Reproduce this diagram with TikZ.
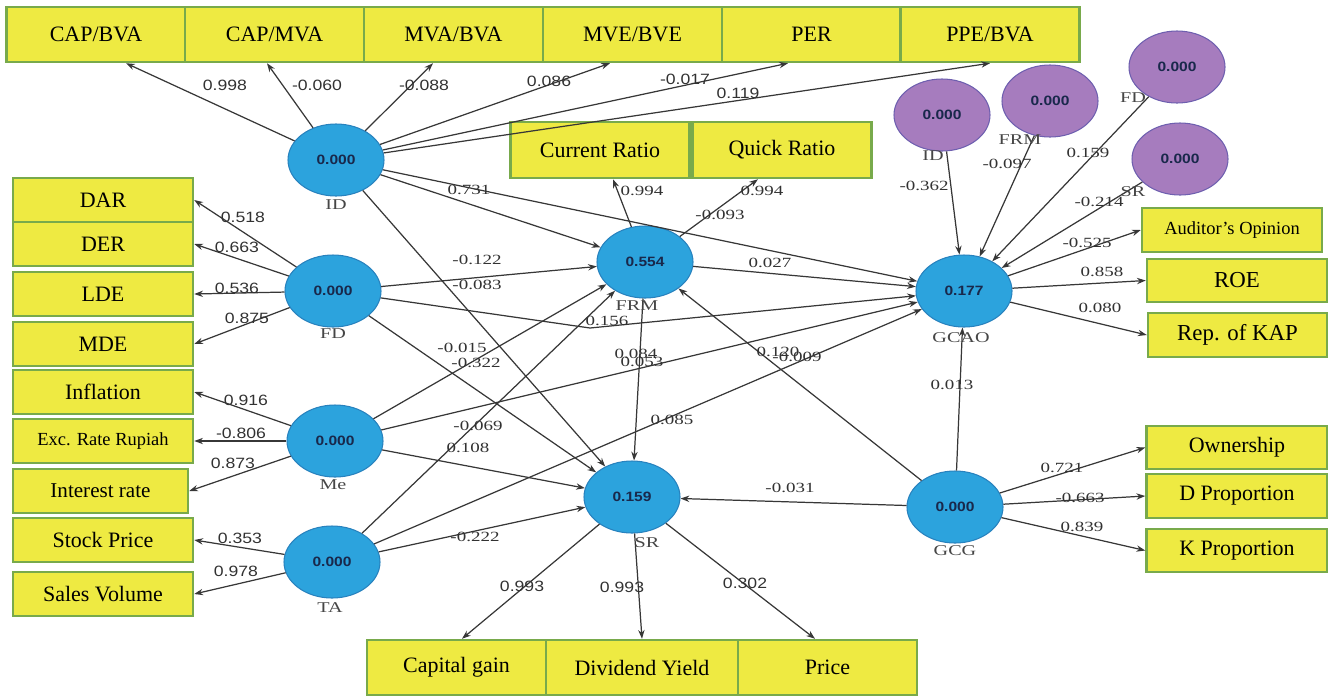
\documentclass[tikz,border=0pt]{standalone}
\usepackage{fontspec}
\setmainfont{Liberation Serif}
\newfontfamily\lsans[FakeStretch=1.18]{Liberation Sans}
\newfontfamily\lserif[FakeStretch=1.35]{Liberation Serif}
\newfontfamily\vsans[FakeStretch=1.15]{Liberation Sans}
\usetikzlibrary{shapes.geometric,arrows.meta,calc}
\definecolor{boxfill}{RGB}{238,234,66}
\definecolor{boxline}{RGB}{120,170,75}
\definecolor{lvfill}{RGB}{44,163,221}
\definecolor{lvline}{RGB}{40,130,190}
\definecolor{modfill}{RGB}{166,124,190}
\definecolor{modline}{RGB}{110,95,175}
\definecolor{edgecol}{RGB}{55,55,55}
\definecolor{labtext}{RGB}{50,50,50}
\definecolor{valtext}{RGB}{25,40,75}
\definecolor{nametext}{RGB}{70,70,70}
\begin{document}
\begin{tikzpicture}[x=0.2mm,y=-0.2mm,
  box/.style={draw=boxline, fill=boxfill, line width=1.4pt, minimum width=36mm, minimum height=8.8mm, inner sep=0pt, font=\fontsize{12.5}{14}\selectfont},
  topbox/.style={box, minimum width=35.8mm, minimum height=11mm},
  lv/.style={ellipse, draw=lvline, fill=lvfill, line width=0.6pt, minimum width=19.2mm, minimum height=14.4mm, inner sep=0pt, font=\vsans\bfseries\fontsize{7.7}{9}\selectfont, text=valtext},
  mod/.style={lv, draw=modline, fill=modfill},
  arr/.style={draw=edgecol, line width=0.7pt, -{Stealth[length=5pt,width=3.6pt]}},
  ls/.style={font=\lsans\fontsize{8.5}{10}\selectfont, text=labtext, inner sep=0pt},
  lr/.style={font=\lserif\fontsize{8}{10}\selectfont, text=labtext, inner sep=0pt},
  nm/.style={font=\lserif\fontsize{8.5}{10}\selectfont, text=nametext, inner sep=0pt}]
\useasboundingbox (0,0) rectangle (1328,696);

% latent variables
\node[lv] (ID) at (336,160) {0.000};
\node[lv] (FD) at (333,291) {0.000};
\node[lv] (Me) at (335,441) {0.000};
\node[lv] (TA) at (332,562) {0.000};
\node[lv] (FRM) at (645,262) {0.554};
\node[lv] (SR) at (632,497) {0.159};
\node[lv] (GCAO) at (964,291) {0.177};
\node[lv] (GCG) at (955,507) {0.000};
% moderators
\node[mod] (mID) at (942,115) {0.000};
\node[mod] (mFRM) at (1050,101) {0.000};
\node[mod] (mFD) at (1177,67) {0.000};
\node[mod] (mSR) at (1180,159) {0.000};

% indicator boxes: top row
\node[topbox] (CAPBVA) at (96,34.5) {CAP/BVA};
\node[topbox] (CAPMVA) at (274.5,34.5) {CAP/MVA};
\node[topbox] (MVABVA) at (453.5,34.5) {MVA/BVA};
\node[topbox] (MVEBVE) at (632.5,34.5) {MVE/BVE};
\node[topbox] (PER) at (811.5,34.5) {PER};
\node[topbox] (PPEBVA) at (990,34.5) {PPE/BVA};
\node[topbox, minimum height=11.2mm] (CR) at (600,150) {Current Ratio};
\node[topbox, minimum height=11.2mm] (QR) at (782,150) {Quick Ratio};
% left column
\node[box] (DAR) at (103,200) {DAR};
\node[box] (DER) at (103,244) {DER};
\node[box] (LDE) at (103,294) {LDE};
\node[box] (MDE) at (103,344) {MDE};
\node[box] (INF) at (103,392) {Inflation};
\node[box, font=\fontsize{10.5}{12}\selectfont] (EXC) at (103,441) {Exc. Rate Rupiah};
\node[box, minimum width=35mm, font=\fontsize{12}{14}\selectfont] (INT) at (100.5,491) {Interest rate};
\node[box] (STP) at (103,540) {Stock Price};
\node[box] (SAV) at (103,594) {Sales Volume};
% right column
\node[box, font=\fontsize{10.5}{12}\selectfont] (AUD) at (1232,230) {Auditor’s Opinion};
\node[box, minimum height=8.6mm, font=\fontsize{13}{15}\selectfont] (ROE) at (1237,280.5) {ROE};
\node[box, minimum width=35.8mm, font=\fontsize{13}{15}\selectfont] (KAP) at (1237.5,335) {Rep. of KAP};
\node[box, minimum width=36.2mm, minimum height=8.6mm] (OWN) at (1237,447.5) {Ownership};
\node[box, minimum width=36.2mm] (DPR) at (1237,496) {D Proportion};
\node[box, minimum width=36.2mm, minimum height=8.6mm] (KPR) at (1237,550.5) {K Proportion};
% bottom row
\node[topbox] (CAPG) at (456.5,667.5) {Capital gain};
\node[topbox, minimum width=38.4mm] (DIV) at (642,667.5) {Dividend Yield};
\node[topbox] (PRC) at (827.5,667.5) {Price};

% outer loadings
\draw[arr] (ID) -- (126,0 |- CAPBVA.south);
\draw[arr] (ID) -- (267,0 |- CAPMVA.south);
\draw[arr] (ID) -- (433,0 |- MVABVA.south);
\draw[arr] (ID) -- (610,0 |- MVEBVE.south);
\draw[arr] (ID) -- (788,0 |- PER.south);
\draw[arr] (ID) -- (PPEBVA.south);
\draw[arr] (FRM) -- (613,0 |- CR.south);
\draw[arr] (FRM) -- (758,0 |- QR.south);
\draw[arr] (FD) -- (DAR.east);
\draw[arr] (FD) -- (DER.east);
\draw[arr] (FD) -- (LDE.east);
\draw[arr] (FD) -- (MDE.east);
\draw[arr] (Me) -- (INF.east);
\draw[arr] (Me) -- (EXC.east);
\draw[arr] (Me) -- (INT.east);
\draw[arr] (TA) -- (STP.east);
\draw[arr] (TA) -- (SAV.east);
\draw[arr] (GCAO) -- (AUD.west);
\draw[arr] (GCAO) -- (ROE.west);
\draw[arr] (GCAO) -- (KAP.west);
\draw[arr] (GCG) -- (OWN.west);
\draw[arr] (GCG) -- (DPR.west);
\draw[arr] (GCG) -- (KPR.west);
\draw[arr] (SR) -- (462,0 |- CAPG.north);
\draw[arr] (SR) -- (DIV.north);
\draw[arr] (SR) -- (815,0 |- PRC.north);

% structural paths
\coordinate (bend) at (590,328);
\draw[arr] (ID) -- (FRM);
\draw[arr] (ID) -- (GCAO);
\draw[arr] (ID) -- (SR);
\draw[arr] (FD) -- (FRM);
\draw[arr] (FD) -- (bend) -- (GCAO);
\draw[arr] (FD) -- (SR);
\draw[arr] (Me) -- (FRM);
\draw[arr] (Me) -- (GCAO);
\draw[arr] (Me) -- (SR);
\draw[arr] (TA) -- (FRM);
\draw[arr] (TA) -- (GCAO);
\draw[arr] (TA) -- (SR);
\draw[arr] (FRM) -- (GCAO);
\draw[arr] (FRM) -- (SR);
\draw[arr] (GCG) -- (FRM);
\draw[arr] (GCG) -- (GCAO);
\draw[arr] (GCG) -- (SR);
\draw[arr] (mID) -- (GCAO);
\draw[arr] (mFRM) -- (GCAO);
\draw[arr] (mFD) -- (GCAO);
\draw[arr] (mSR) -- (GCAO);

% names of constructs
\node[nm] (tID) at (336,205) {ID};
\node[nm] (tFD) at (333,334) {FD};
\node[nm] (tMe) at (333,485) {Me};
\node[nm] (tTA) at (330,608) {TA};
\node[nm] (tFRM) at (637,306) {FRM};
\node[nm] (tSR) at (647,543) {SR};
\node[nm] (tGCAO) at (961,338) {GCAO};
\node[nm] (tGCG) at (955,551) {GCG};
\node[nm] (tmID) at (933,156) {ID};
\node[nm] (tmFRM) at (1020,140) {FRM};
\node[nm] (tmFD) at (1133,98) {FD};
\node[nm] (tmSR) at (1133,192) {SR};

% loading labels
\node[ls] (l1) at (225,85) {0.998};
\node[ls] (l2) at (317,85) {-0.060};
\node[ls] (l3) at (424,85) {-0.088};
\node[ls] (l4) at (549,81) {0.086};
\node[ls] (l5) at (685,79) {-0.017};
\node[ls] (l6) at (738,93) {0.119};
\node[ls] (l7) at (243,217) {0.518};
\node[ls] (l8) at (237,247) {0.663};
\node[ls] (l9) at (237,288) {0.536};
\node[ls] (l10) at (247,318) {0.875};
\node[ls] (l11) at (246,400) {0.916};
\node[ls] (l12) at (241,433) {-0.806};
\node[ls] (l13) at (233,463) {0.873};
\node[ls] (l14) at (240,538) {0.353};
\node[ls] (l15) at (236,571) {0.978};
\node[ls] (l16) at (522,586) {0.993};
\node[ls] (l17) at (622,587) {0.993};
\node[ls] (l18) at (745,583) {0.302};
\node[lr] (l19) at (642,191) {0.994};
\node[lr] (l20) at (762,191) {0.994};

% path labels
\node[lr] (p1) at (469,190) {0.731};
\node[lr] (p2) at (720,215) {-0.093};
\node[lr] (p3) at (477,260) {-0.122};
\node[lr] (p4) at (477,285) {-0.083};
\node[lr] (p5) at (607,321) {0.156};
\node[lr] (p6) at (462,348) {-0.015};
\node[lr] (p7) at (476,363) {-0.322};
\node[lr] (p8) at (478,426) {-0.069};
\node[lr] (p9) at (468,448) {0.108};
\node[lr] (p10) at (672,420) {0.085};
\node[lr] (p11) at (475,537) {-0.222};
\node[lr] (p12) at (636,354) {0.084};
\node[lr] (p13) at (642,362) {0.053};
\node[lr] (p14) at (770,263) {0.027};
\node[lr] (p15) at (778,352) {0.120};
\node[lr] (p16) at (797,357) {-0.009};
\node[lr] (p17) at (790,488) {-0.031};
\node[lr] (p18) at (952,385) {0.013};
\node[lr] (p19) at (924,186) {-0.362};
\node[lr] (p20) at (1007,164) {-0.097};
\node[lr] (p21) at (1088,153) {0.159};
\node[lr] (p22) at (1099,202) {-0.214};
\node[lr] (p23) at (1087,243) {-0.525};
\node[lr] (p24) at (1102,272) {0.858};
\node[lr] (p25) at (1100,308) {0.080};
\node[lr] (p26) at (1062,468) {0.721};
\node[lr] (p27) at (1080,498) {-0.663};
\node[lr] (p28) at (1082,527) {0.839};
\end{tikzpicture}
\end{document}
